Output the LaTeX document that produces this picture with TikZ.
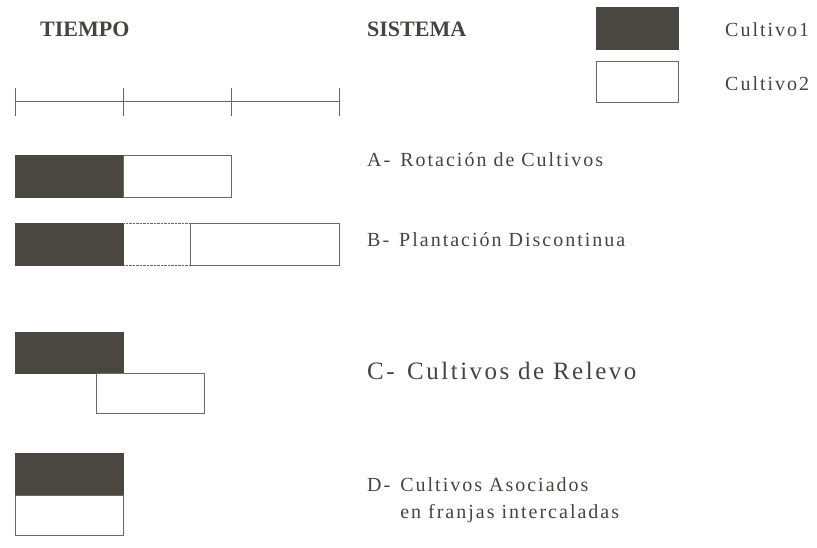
\documentclass[tikz,border=0pt]{standalone}
\usepackage{fontspec}
\setmainfont{Liberation Serif}
\definecolor{oscuro}{HTML}{4A4740}
\definecolor{trazo}{HTML}{6B6963}
\definecolor{letra}{HTML}{46443F}
\newcommand{\guion}{-\hspace{0.5em}}
\tikzset{
  cult1/.style={fill=oscuro,draw=oscuro},
  cult2/.style={fill=white,draw=trazo,line width=0.9pt},
  rotulo/.style={anchor=base west,inner sep=0pt,text=letra,align=left,
    font=\fontsize{20}{27}\selectfont\addfontfeatures{LetterSpace=10}},
  titulo/.style={anchor=base west,inner sep=0pt,text=letra,
    font=\fontsize{22}{26}\selectfont\bfseries}
}
\begin{document}
\begin{tikzpicture}[x=1pt,y=-1pt]
      \useasboundingbox (0,0) rectangle (817,548);
      \node[titulo] (tiempo) at (40,37) {TIEMPO};
      \node[titulo] (sistema) at (367,37) {SISTEMA};
      % leyenda
      \draw[cult1] (596,7) rectangle (678,49);
      \draw[cult2] (596,61) rectangle (678,102);
      \node[rotulo] (cultivo1) at (725,37) {Cultivo1};
      \node[rotulo] (cultivo2) at (725,91) {Cultivo2};
      % eje de tiempo
      \draw[trazo,line width=1pt] (15,102) -- (339,102);
      \foreach \x in {15,123,231,339} \draw[trazo,line width=1pt] (\x,88) -- (\x,116);
      % A
      \draw[cult1] (15,155) rectangle (123,197);
      \draw[cult2] (123,155) rectangle (231,197);
      \node[rotulo] (sisA) at (367,167) {A\guion Rotación de Cultivos};
      % B
      \draw[cult1] (15,223) rectangle (123,265);
      \draw[trazo,densely dotted] (123,223) -- (190,223) (123,265) -- (190,265);
      \draw[cult2] (190,223) rectangle (339,265);
      \node[rotulo] (sisB) at (367,247) {B\guion Plantación Discontinua};
      % C
      \draw[cult1] (15,332) rectangle (123,373);
      \draw[cult2] (96,373) rectangle (204,413);
      \node[rotulo,font=\fontsize{25}{28}\selectfont\addfontfeatures{LetterSpace=10}] (sisC) at (367,379) {C\guion Cultivos de Relevo};
      % D
      \draw[cult1] (15,453) rectangle (123,495);
      \draw[cult2] (15,495) rectangle (123,535);
      \node[rotulo] (sisD) at (367,518) {D\guion Cultivos Asociados\\\phantom{D\guion}en franjas intercaladas};
\end{tikzpicture}
\end{document}
